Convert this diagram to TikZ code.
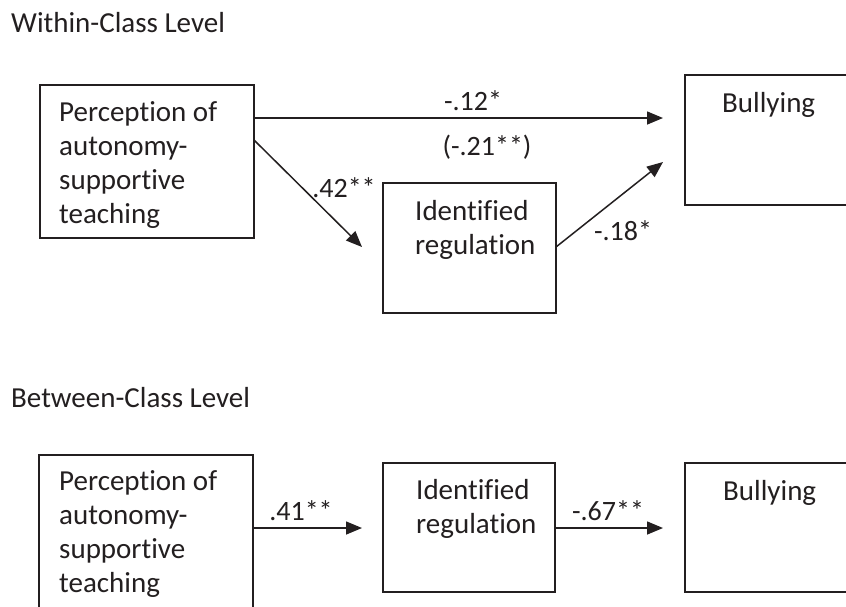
\documentclass[tikz,border=0pt]{standalone}
\usepackage{fontspec}
\setmainfont[Ligatures={NoCommon}]{Carlito}
\usetikzlibrary{arrows.meta}
\definecolor{ink}{HTML}{231F20}
\begin{document}
\begin{tikzpicture}[x=1pt,y=-1pt,
  box/.style={draw=ink,line width=1.2pt,rectangle,inner sep=0pt,outer sep=0pt,anchor=north west},
  boxtext/.style={font=\fontsize{29}{34}\selectfont,text=ink,align=left,inner sep=0pt,anchor=base west},
  title/.style={font=\fontsize{29}{32}\selectfont,text=ink,inner sep=0pt,anchor=base west},
  coef/.style={font=\fontsize{28}{30}\selectfont,text=ink,inner sep=0pt,anchor=base},
  path/.style={draw=ink,line width=1.5pt,-{Triangle[length=16pt,width=13pt]}}]
\useasboundingbox[fill=white] (0,0) rectangle (846,606);

% ---------- Within-Class Level ----------
\node[title] (t1) at (11,32) {Within-Class Level};
\node[box,minimum width=214pt,minimum height=153pt] (a1) at (40,85) {};
\node[box,minimum width=173pt,minimum height=130pt] (a2) at (383,183) {};
\node[box,minimum width=240pt,minimum height=130pt] (a3) at (685,75) {};

% anchor base west = baseline of the last line
\node[boxtext] (a1t) at (59,223) {Perception of\\autonomy-\\supportive\\teaching};
\node[boxtext] (a2t) at (415,254) {Identified\\regulation};
\node[boxtext] (a3t) at (722,112) {Bullying};

\draw[path] ([yshift=-33pt]a1.north east) -- ([xshift=-22pt,yshift=-43pt]a3.north west);
\draw[path] ([yshift=-55pt]a1.north east) -- ([xshift=-21pt,yshift=-64pt]a2.north west);
\draw[path] ([yshift=-64pt]a2.north east) -- ([xshift=-22pt,yshift=-87pt]a3.north west);

\node[coef] (c1) at (473,110) {-.12*};
\node[coef] (c2) at (487,155) {(-.21**)};
\node[coef] (c3) at (344,197) {.42**};
\node[coef] (c4) at (623,240) {-.18*};

% ---------- Between-Class Level ----------
\node[title] (t2) at (11,407) {Between-Class Level};
\node[box,minimum width=214pt,minimum height=200pt] (b1) at (39,455) {};
\node[box,minimum width=172pt,minimum height=129pt] (b2) at (383,463) {};
\node[box,minimum width=240pt,minimum height=129pt] (b3) at (685,463) {};

\node[boxtext] (b1t) at (59,592) {Perception of\\autonomy-\\supportive\\teaching};
\node[boxtext] (b2t) at (416,533) {Identified\\regulation};
\node[boxtext] (b3t) at (723,500) {Bullying};

\draw[path] ([yshift=-73pt]b1.north east) -- ([xshift=-21pt,yshift=-65pt]b2.north west);
\draw[path] ([yshift=-65pt]b2.north east) -- ([xshift=-22pt,yshift=-65pt]b3.north west);

\node[coef] (d1) at (301,520) {.41**};
\node[coef] (d2) at (608,520) {-.67**};
\end{tikzpicture}
\end{document}
